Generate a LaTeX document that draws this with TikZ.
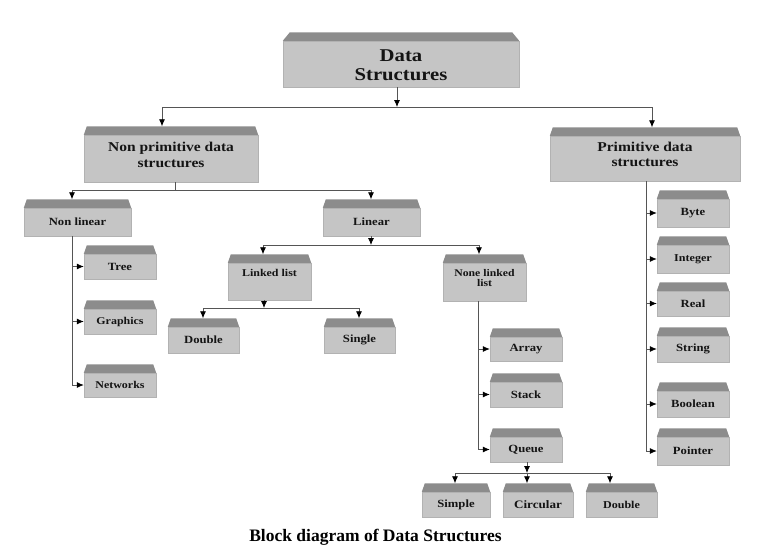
\documentclass[tikz,border=0pt]{standalone}
\usepackage{fontspec}
\setmainfont{Liberation Serif}
\newfontfamily\bxf[FakeStretch=1.15]{Liberation Serif}
\usetikzlibrary{arrows.meta}
\definecolor{bodyc}{RGB}{197,197,197}
\definecolor{topc}{RGB}{140,140,140}
\definecolor{edgec}{RGB}{178,178,178}
\definecolor{linec}{RGB}{85,85,85}
\definecolor{txtc}{RGB}{20,20,20}
\newcommand\bevel[2]{%
  \fill[topc] (#1.north west) -- ([xshift=#2pt,yshift=8.5pt]#1.north west)
     -- ([xshift=-#2pt,yshift=8.5pt]#1.north east) -- (#1.north east) -- cycle;
  \coordinate (#1-t) at ([yshift=8.5pt]#1.north);}
\newcommand\twol[2]{\begin{tabular}[t]{@{}c@{}}#1\\#2\end{tabular}}
\tikzset{
  blk/.style={fill=bodyc, draw=edgec, line width=0.4pt, inner sep=0pt,
    text=txtc, font=\bxf\bfseries\fontsize{11}{12}\selectfont},
  fs/.style 2 args={font=\bxf\bfseries\fontsize{#1}{#2}\selectfont},
  ln/.style={draw=linec, line width=0.8pt},
  arr/.style={ln, -{Latex[length=7pt,width=6pt,color=black]}},
  sm/.style={minimum width=72pt, minimum height=26pt}
}
\begin{document}
\begin{tikzpicture}[x=1pt,y=-1pt]
\useasboundingbox (0,0) rectangle (778,557);
% ---- boxes ----
\node[blk, minimum width=236pt, minimum height=46pt, fs={18}{19}, text height=12pt, text depth=18pt] (ds) at (401,64) {\twol{Data}{Structures}};
\bevel{ds}{7}
\node[blk, minimum width=174pt, minimum height=47pt, fs={13.5}{16}, text height=10pt, text depth=24pt] (np) at (171,158.5) {\twol{Non primitive data}{structures}};
\bevel{np}{3}
\node[blk, minimum width=190pt, minimum height=45pt, fs={13.5}{15}, text height=10pt, text depth=24pt] (pr) at (645,158.5) {\twol{Primitive data}{structures}};
\bevel{pr}{3}
\node[blk, minimum width=107pt, minimum height=28pt] (nl) at (77.5,222) {Non linear};
\bevel{nl}{3}
\node[blk, minimum width=97pt, minimum height=28pt] (lin) at (371.5,222) {Linear};
\bevel{lin}{3}
\node[blk, sm, minimum height=25pt] (tree) at (120,266.5) {Tree};
\bevel{tree}{3}
\node[blk, sm, minimum height=25pt, fs={10.4}{11}] (gra) at (120,321.5) {Graphics};
\bevel{gra}{3}
\node[blk, sm, minimum height=24pt, fs={10.4}{11}] (net) at (120,385) {Networks};
\bevel{net}{3}
\node[blk, minimum width=83pt, minimum height=37pt, fs={10.4}{11}, text height=8pt, text depth=18pt] (ll) at (269.5,281.5) {Linked list};
\bevel{ll}{3}
\node[blk, minimum width=71pt, minimum height=26pt] (dbl) at (203.5,340) {Double};
\bevel{dbl}{3}
\node[blk, minimum width=71pt, minimum height=26pt] (sgl) at (359.5,340) {Single};
\bevel{sgl}{3}
\node[blk, minimum width=83pt, minimum height=38pt, fs={10.2}{10}, text height=8pt, text depth=19pt] (nll) at (484.5,282) {\twol{None linked}{list}};
\bevel{nll}{3}
\node[blk, sm, minimum height=24pt] (arr) at (526,349) {Array};
\bevel{arr}{3}
\node[blk, sm, minimum height=25pt] (stk) at (526,394.5) {Stack};
\bevel{stk}{3}
\node[blk, sm, minimum height=25pt] (que) at (526,449.5) {Queue};
\bevel{que}{3}
\node[blk, minimum width=68pt, minimum height=25pt] (sim) at (456,504.5) {Simple};
\bevel{sim}{3}
\node[blk, minimum width=70pt, minimum height=25pt, fs={11.4}{12}] (cir) at (538,504.5) {Circular};
\bevel{cir}{3}
\node[blk, minimum width=71pt, minimum height=25pt, fs={10.5}{11}] (dbl2) at (621.5,504.5) {Double};
\bevel{dbl2}{3}
\node[blk, sm, minimum height=28pt] (byte) at (693,213) {Byte};
\bevel{byte}{3}
\node[blk, sm, minimum height=28pt, fs={10.5}{11}] (int) at (693,259) {Integer};
\bevel{int}{3}
\node[blk, sm, minimum height=25pt] (real) at (693,303.5) {Real};
\bevel{real}{3}
\node[blk, sm, minimum height=26pt] (str) at (693,349) {String};
\bevel{str}{3}
\node[blk, sm, minimum height=26pt] (bool) at (693,404) {Boolean};
\bevel{bool}{3}
\node[blk, sm, minimum height=28pt] (ptr) at (693,451) {Pointer};
\bevel{ptr}{3}
% ---- junction points ----
\coordinate (t1) at (397,107);
\coordinate (tL) at (162,107);
\coordinate (tR) at (652,107);
\coordinate (n1) at (175,190);
\coordinate (nlx) at (72,190);
\coordinate (linx) at (371,190);
\coordinate (l1) at (371,245);
\coordinate (llx) at (263,245);
\coordinate (nllx) at (479,245);
\coordinate (k1) at (264,308);
\coordinate (dx) at (203,308);
\coordinate (sx) at (359,308);
\coordinate (nv) at (478,301);
\coordinate (q1) at (527,473);
\coordinate (sx2) at (455,473);
\coordinate (dx2) at (610,473);
\coordinate (pv) at (646,181);
% ---- connectors ----
\draw[arr] (ds.south -| t1) -- (t1);
\draw[ln] (tL) -- (tR);
\draw[arr] (tL) -- (tL |- np-t);
\draw[arr] (tR) -- (tR |- pr-t);
\draw[ln] (np.south -| n1) -- (n1);
\draw[ln] (nlx) -- (linx);
\draw[arr] (nlx) -- (nlx |- nl-t);
\draw[arr] (linx) -- (linx |- lin-t);
\draw[ln] (nl.south -| nlx) -- (net.west -| nlx);
\foreach \b in {tree,gra,net} \draw[arr] (\b.west -| nlx) -- (\b.west);
\draw[arr] (lin.south -| l1) -- (l1);
\draw[ln] (llx) -- (nllx);
\draw[arr] (llx) -- (llx |- ll-t);
\draw[arr] (nllx) -- (nllx |- nll-t);
\draw[arr] (ll.south -| k1) -- (k1);
\draw[ln] (dx) -- (sx);
\draw[arr] (dx) -- (dx |- dbl-t);
\draw[arr] (sx) -- (sx |- sgl-t);
\draw[ln] (nll.south -| nv) -- (que.west -| nv);
\foreach \b in {arr,stk,que} \draw[arr] (\b.west -| nv) -- (\b.west);
\draw[arr] (que.south -| q1) -- (q1);
\draw[ln] (sx2) -- (dx2);
\draw[arr] (sx2) -- (sx2 |- sim-t);
\draw[arr] (q1) -- (q1 |- cir-t);
\draw[arr] (dx2) -- (dx2 |- dbl2-t);
\draw[ln] (pr.south -| pv) -- (ptr.west -| pv);
\foreach \b in {byte,int,real,str,bool,ptr} \draw[arr] (\b.west -| pv) -- (\b.west);
% ---- caption ----
\node[anchor=base, inner sep=0pt, font=\bfseries\fontsize{17.5}{20}\selectfont] (cap) at (375.5,541) {Block diagram of Data Structures};
\end{tikzpicture}
\end{document}
